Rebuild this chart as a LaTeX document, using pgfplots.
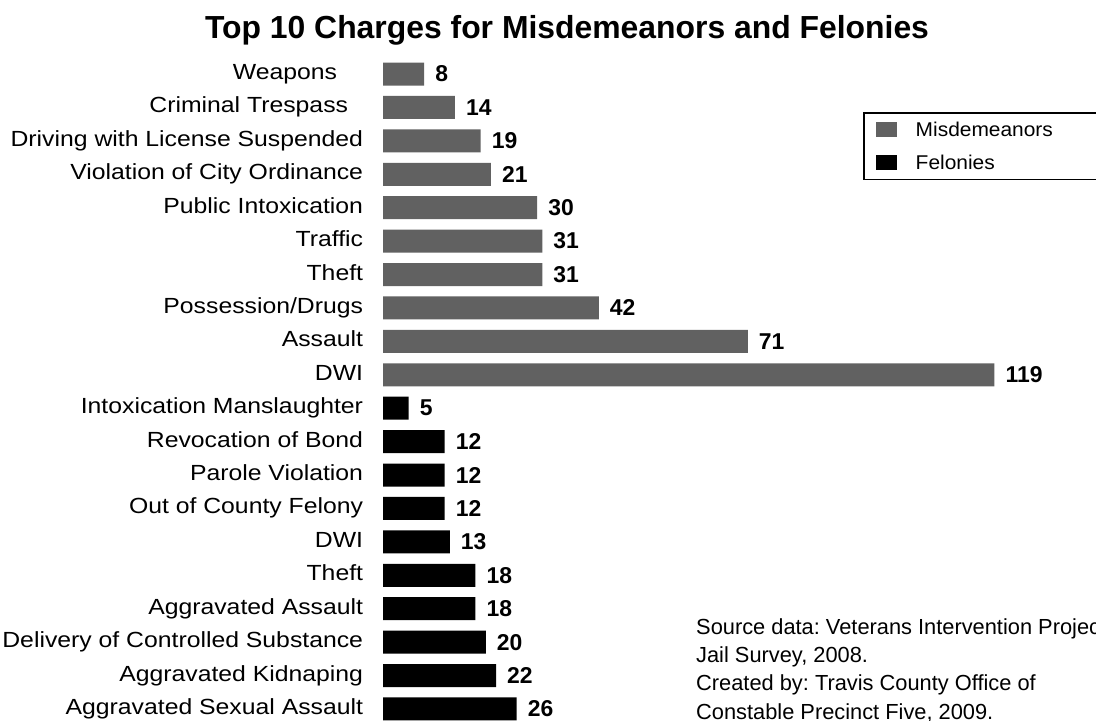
\documentclass[border=0pt]{standalone}
\usepackage{fontspec}
\setmainfont{Liberation Sans}
\newfontfamily\labfont{Liberation Sans}[FakeStretch=1.13]
\newfontfamily\legfont{Liberation Sans}[FakeStretch=1.05]
\usepackage{pgfplots}
\pgfplotsset{compat=1.18}
\definecolor{misd}{gray}{0.38}
\frenchspacing
\begin{document}
\begin{tikzpicture}
\path[use as bounding box] (0bp,0bp) rectangle (1096bp,721bp);
\node[anchor=base, font=\fontsize{32}{38}\selectfont\bfseries, inner sep=0pt] at (567bp,682.7bp) {Top 10 Charges for Misdemeanors and Felonies};
\begin{axis}[
  at={(383bp,663.7bp)}, anchor=north west,
  scale only axis, width=709bp, height=668.4bp,
  xmin=0, xmax=138, ymin=-0.5, ymax=19.5, y dir=reverse,
  axis line style={draw=none}, tick style={draw=none},
  xtick=\empty, ytick={0,...,19},
  yticklabels={Weapons\kern26bp, Criminal Trespass\kern15bp, Driving with License Suspended, Violation of City Ordinance, Public Intoxication, Traffic, Theft, Possession/Drugs, Assault, DWI, Intoxication Manslaughter, Revocation of Bond, Parole Violation, Out of County Felony, DWI, Theft, Aggravated Assault, Delivery of Controlled Substance, Aggravated Kidnaping, Aggravated Sexual Assault},
  yticklabel style={font=\fontsize{22}{26}\labfont, anchor=base east, inner sep=0pt, xshift=-15.5bp, yshift=-5.5bp},
  /pgf/number format/assume math mode=true,
  xbar, bar width=23bp, bar shift=0pt,
  nodes near coords,
  nodes near coords style={font=\fontsize{23}{27}\selectfont\bfseries, anchor=west, inner sep=0pt, xshift=11bp},
  legend image code/.code={\path[#1,draw=none] (0bp,-7.5bp) rectangle (21bp,7.5bp);},
  legend style={at={(0.677,0.918)}, anchor=north west, draw=black, line width=1.5bp, fill=white,
    inner xsep=12bp, inner ysep=7bp, row sep=13bp, font=\fontsize{20}{24}\legfont,
    cells={anchor=west}, /tikz/every odd column/.append style={column sep=17bp}},
  clip=false,
]
\addplot[fill=misd, draw=none] coordinates {(8,0) (14,1) (19,2) (21,3) (30,4) (31,5) (31,6) (42,7) (71,8) (119,9)};
\addlegendentry{\makebox[185bp][l]{Misdemeanors}}
\addplot[fill=black, draw=none] coordinates {(5,10) (12,11) (12,12) (12,13) (13,14) (18,15) (18,16) (20,17) (22,18) (26,19)};
\addlegendentry{Felonies}
\end{axis}
\node[anchor=north west, align=left, inner sep=0pt, font=\fontsize{21.9}{28.5}\selectfont] at (696bp,103bp) {Source data: Veterans Intervention Project\\Jail Survey, 2008.\\Created by: Travis County Office of\\Constable Precinct Five, 2009.};
\end{tikzpicture}
\end{document}
